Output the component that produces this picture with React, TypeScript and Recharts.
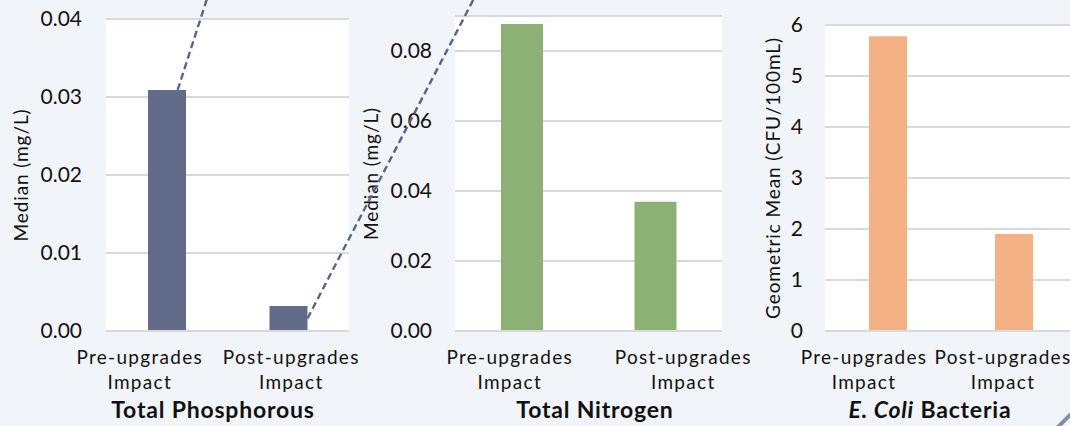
import React from 'react';
import { BarChart, Bar, XAxis, YAxis, CartesianGrid } from 'recharts';

const categories = ['Pre-upgrades Impact', 'Post-upgrades Impact'];
const phosphorus = [0.0309, 0.0032];
const nitrogen = [0.0877, 0.0369];
const eColi = [5.78, 1.9];
const phosphorusTicks = [0, 0.01, 0.02, 0.03, 0.04];
const nitrogenTicks = [0, 0.02, 0.04, 0.06, 0.08];
const eColiTicks = [0, 1, 2, 3, 4, 5, 6];

const FONT = 'Lato, "Open Sans", sans-serif';
const INK = '#111';
const GRID = '#D9D9D9';

const toRows = (values: number[]) => categories.map((name, i) => ({ name, value: values[i] }));

const CategoryTick = (props: any) => {
  const { x, y, payload, shifts } = props;
  const idx = props.index ?? payload.index ?? 0;
  const words = String(payload.value).split(' ');
  const cx = x + (shifts[idx] ?? 0);
  return (
    <text x={cx} y={y} textAnchor="middle" fontFamily={FONT} fontSize={19} letterSpacing={1.3} fill={INK}>
      <tspan x={cx} dy={31}>{words[0]}</tspan>
      <tspan x={cx} dy={25}>{words.slice(1).join(' ')}</tspan>
    </text>
  );
};

// dashed callout lines leaving the phosphorus bars
const connector = (p: any) => {
  const { x, y, width, height, index } = p;
  const sx = index === 0 ? x + width * 0.78 : x + width;
  const sy = index === 0 ? y : y + height / 2;
  const slope = index === 0 ? 29 / 90 : 166 / 319;
  const ey = -12;
  return (
    <line key={`c-${index}`} x1={sx} y1={sy} x2={sx + (sy - ey) * slope} y2={ey}
      stroke="#5A6488" strokeWidth={2.4} strokeDasharray="7 4" />
  );
};

type Seg = { text: string; italic?: boolean };

const Panel = (props: any) => {
  const { left, width, top, yWidth, right, values, color, barSize, domain, ticks, fmt, gap,
    yLabel, yLabelX, shifts, title, titleX, withConnector, z } = props;
  return (
    <div style={{ position: 'absolute', left, top: 0, zIndex: z }}>
      <BarChart width={width} height={426} data={toRows(values)}
        margin={{ top, right, bottom: 0, left: 0 }}>
        <CartesianGrid vertical={false} stroke={GRID} strokeWidth={2} fill="#FFFFFF" />
        <XAxis dataKey="name" height={95} tickLine={false} tickSize={0}
          axisLine={{ stroke: GRID, strokeWidth: 2 }} interval={0}
          tick={(tp: any) => <CategoryTick {...tp} shifts={shifts} />}
          label={{
            content: () => (
              <text x={titleX} y={418} textAnchor="middle" fontFamily={FONT} fontSize={23}
                letterSpacing={0.8} fontWeight="bold" fill={INK}>
                {(title as Seg[]).map((s, i) => (
                  <tspan key={i} fontStyle={s.italic ? 'italic' : 'normal'}>{s.text}</tspan>
                ))}
              </text>
            ),
          }} />
        <YAxis width={yWidth} domain={domain} ticks={ticks} tickFormatter={fmt} interval={0}
          axisLine={false} tickLine={false} tickSize={0} tickMargin={gap}
          tick={{ fontSize: 21, fill: INK, fontFamily: FONT }}
          label={{
            content: (lp: any) => {
              const vb = lp.viewBox || {};
              const cy = (vb.y ?? top) + (vb.height ?? 300) / 2;
              return (
                <text x={yLabelX} y={cy} transform={`rotate(-90 ${yLabelX} ${cy})`}
                  textAnchor="middle" dominantBaseline="central" fontFamily={FONT}
                  fontSize={19} letterSpacing={0.9} fill={INK}>{yLabel}</text>
              );
            },
          }} />
        <Bar dataKey="value" fill={color} barSize={barSize} isAnimationActive={false}
          label={withConnector ? connector : undefined} />
      </BarChart>
    </div>
  );
};

export default function App() {
  return (
    <div style={{ position: 'absolute', left: 0, top: 0, width: 1070, height: 426,
      overflow: 'hidden', background: '#F1F5FA' }}>
      <style>{'.recharts-surface{overflow:visible}'}</style>
      <Panel left={735} width={400} top={25} yWidth={90} right={58} values={eColi}
        color="#F4B183" barSize={38} domain={[0, 6]} ticks={eColiTicks}
        fmt={(v: number) => String(v)} gap={22}
        yLabel="Geometric Mean (CFU/100mL)" yLabelX={37} shifts={[-24, -11]}
        title={[{ text: 'E. Coli', italic: true }, { text: ' Bacteria' }]} titleX={195} z={1} />
      <Panel left={360} width={370} top={16} yWidth={95} right={8} values={nitrogen}
        color="#8DB174" barSize={42} domain={[0, 0.09]} ticks={nitrogenTicks}
        fmt={(v: number) => v.toFixed(2)} gap={23}
        yLabel="Median (mg/L)" yLabelX={10} shifts={[-12, 28]}
        title={[{ text: 'Total Nitrogen' }]} titleX={235} z={2} />
      <Panel left={0} width={360} top={19} yWidth={106} right={11} values={phosphorus}
        color="#636B8A" barSize={38} domain={[0, 0.04]} ticks={phosphorusTicks}
        fmt={(v: number) => v.toFixed(2)} gap={24}
        yLabel="Median (mg/L)" yLabelX={20} shifts={[-27, 3]}
        title={[{ text: 'Total Phosphorous' }]} titleX={213} withConnector z={3} />
      <svg width={1070} height={426} style={{ position: 'absolute', left: 0, top: 0, pointerEvents: 'none', zIndex: 4 }}>
        <line x1={1057} y1={428} x2={1072} y2={413} stroke="#7F8FA9" strokeWidth={4} />
      </svg>
    </div>
  );
}
